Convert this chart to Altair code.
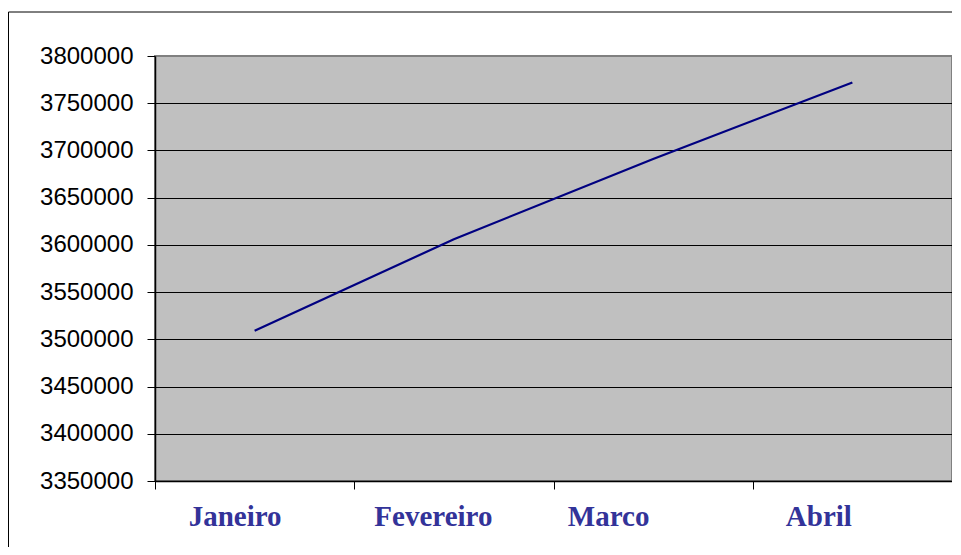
import altair as alt
import pandas as pd

months = ["Janeiro", "Fevereiro", "Marco", "Abril"]
values = [3509000, 3606000, 3691000, 3772000]
y_ticks = [3350000, 3400000, 3450000, 3500000, 3550000, 3600000,
           3650000, 3700000, 3750000, 3800000]
label_shift = [-20, -21, -45, -34]

df = pd.DataFrame({"mes": months, "valor": values})

label_offset = {
    "condition": [
        {"test": f"datum.value == '{m}'", "value": s}
        for m, s in zip(months, label_shift)
    ],
    "value": 0,
}

x_enc = alt.X(
    "mes:N",
    sort=months,
    bandPosition=0.5,
    scale=alt.Scale(type="band", paddingInner=0, paddingOuter=0),
    axis=alt.Axis(
        title=None,
        tickBand="extent",
        labelAngle=0,
        labelFont="Liberation Serif",
        labelFontWeight="bold",
        labelFontSize=29,
        labelColor="#333399",
        labelBaseline="alphabetic",
        labelPadding=36,
        labelOffset=label_offset,
        tickSize=8,
        tickColor="#000000",
        domainColor="#000000",
        domainWidth=1.5,
        grid=False,
    ),
)

y_enc = alt.Y(
    "valor:Q",
    scale=alt.Scale(domain=[3350000, 3800000], nice=False, zero=False),
    axis=alt.Axis(
        title=None,
        values=y_ticks,
        format="d",
        labelFont="Liberation Sans",
        labelFontSize=24,
        labelColor="#000000",
        labelPadding=14,
        tickSize=8,
        tickColor="#000000",
        domainColor="#000000",
        domainWidth=1.5,
        grid=True,
        gridColor={"condition": {"test": "datum.value >= 3800000", "value": "#808080"},
                   "value": "#000000"},
        gridWidth=1,
        gridOpacity=1,
    ),
)

line = alt.Chart(df).mark_line(color="#000080", strokeWidth=2.2).encode(x=x_enc, y=y_enc)

frame_df = pd.DataFrame({"k": [0]})
frame_left = alt.Chart(frame_df).mark_rule(color="#000000", strokeWidth=1).encode(
    x=alt.value(-146.5), y=alt.value(-44), y2=alt.value(520)
)
frame_top = alt.Chart(frame_df).mark_rule(color="#000000", strokeWidth=1).encode(
    x=alt.value(-146.5), x2=alt.value(900), y=alt.value(-44)
)

chart = alt.layer(line, frame_left, frame_top).properties(
    width=797,
    height=425,
    background="#FFFFFF",
    autosize=alt.AutoSizeParams(type="none"),
    padding={"left": 147, "top": 48, "right": 0, "bottom": 66},
).configure_view(
    fill="#C0C0C0",
    stroke="#808080",
    strokeWidth=2,
)

chart.save("out.html", embed_options={"renderer": "svg", "actions": False})
